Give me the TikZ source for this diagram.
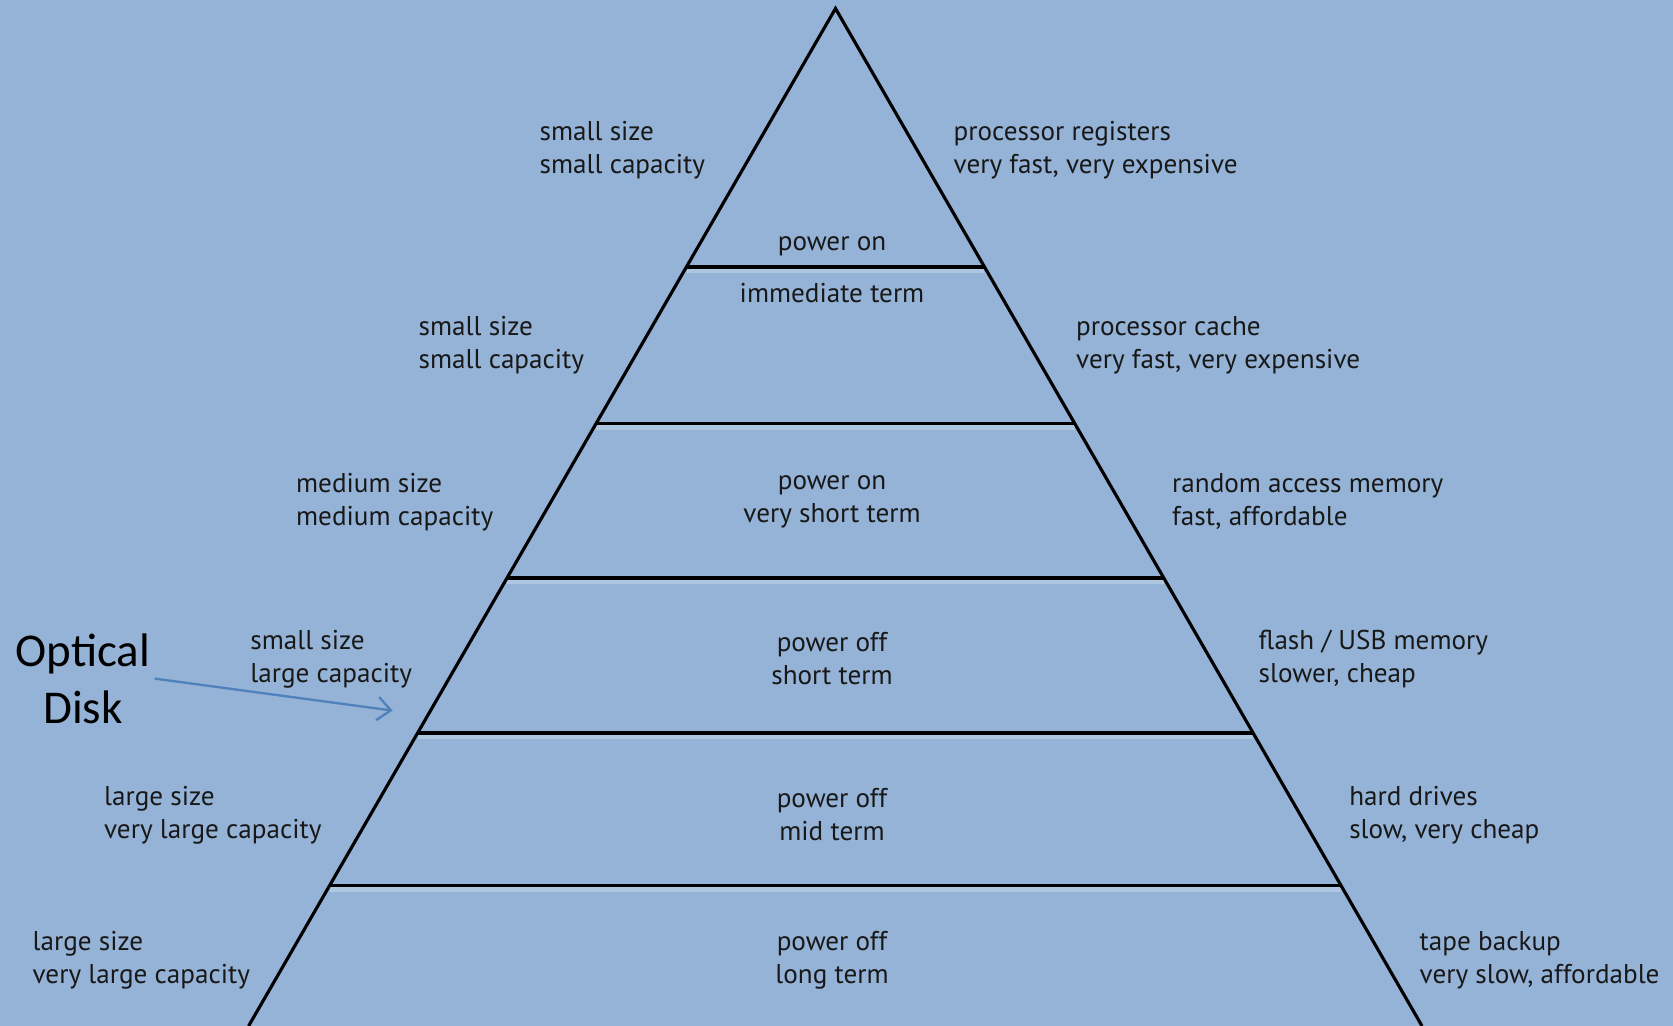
\documentclass[tikz,border=0pt]{standalone}
\usepackage{fontspec}
\setmainfont{PT Sans}
\newfontfamily\calloutfont{Carlito}
\usetikzlibrary{arrows.meta}
\definecolor{bgblue}{RGB}{149,179,215}
\definecolor{arrowblue}{RGB}{79,129,189}
\definecolor{inkgray}{RGB}{24,24,24}
\begin{document}
\begin{tikzpicture}[x=0.3pt,y=-0.3pt,
  lbl/.style={inner sep=0pt, align=left, anchor=west, text=inkgray,
    font=\fontsize{8.15}{9.9}\selectfont},
  mid/.style={inner sep=0pt, align=center, text=inkgray,
    font=\fontsize{8.15}{9.9}\selectfont},
  pyrside/.style={line width=0.95pt, black, line join=miter},
  tierhalo/.style={line width=1.9pt, white, opacity=0.25},
  tierline/.style={line width=1.1pt, black},
  callout/.style={inner sep=0pt, align=center, text=black,
    font=\calloutfont\fontsize{14.1}{17}\selectfont},
  pointer/.style={arrowblue, line width=0.7pt, -{Straight Barb[length=4pt,width=7pt]}}]

% background
\fill[bgblue] (0,0) rectangle (1673,1026);
\useasboundingbox (0,0) rectangle (1673,1026);

% pyramid corners
\coordinate (apex) at (835.5,8.5);
\coordinate (bl) at (248.6,1026);
\coordinate (br) at (1422,1026);

% tier boundaries, left and right ends
\coordinate (t1l) at (686.5,266.8);  \coordinate (t1r) at (984.4,266.8);
\coordinate (t2l) at (596.1,423.6);  \coordinate (t2r) at (1074.8,423.6);
\coordinate (t3l) at (506.8,578.3);  \coordinate (t3r) at (1164.1,578.3);
\coordinate (t4l) at (417.6,733.0);  \coordinate (t4r) at (1253.3,733.0);
\coordinate (t5l) at (329.6,885.6);  \coordinate (t5r) at (1341.2,885.6);

\foreach \t in {1,...,5}{
  \draw[tierhalo] ([yshift=-0.9pt]t\t l) -- ([yshift=-0.9pt]t\t r);
  \draw[tierline] (t\t l) -- (t\t r);
}

% pyramid sides
\draw[pyrside] (bl) -- (apex) -- (br);

% centre labels
\node[mid] (c0a) at (832,246) {power on};
\node[mid] (c0b) at (832,293) {immediate term};
\node[mid] (c2) at (832,502) {power on\\very short term};
\node[mid] (c3) at (832,659) {power off\\short term};
\node[mid] (c4) at (832,815) {power off\\mid term};
\node[mid] (c5) at (832,960) {power off\\long term};

% left labels
\node[lbl] (l0) at (539,150) {small size\\small capacity};
\node[lbl] (l1) at (418,345) {small size\\small capacity};
\node[lbl] (l2) at (295.5,502) {medium size\\medium capacity};
\node[lbl] (l3) at (249.7,659) {small size\\large capacity};
\node[lbl] (l4) at (103.5,815) {large size\\very large capacity};
\node[lbl] (l5) at (32,960) {large size\\very large capacity};

% right labels
\node[lbl] (r0) at (953,150) {processor registers\\very fast, very expensive};
\node[lbl] (r1) at (1075.5,345) {processor cache\\very fast, very expensive};
\node[lbl] (r2) at (1171.5,502) {random access memory\\fast, affordable};
\node[lbl] (r3) at (1258,659) {flash / USB memory\\slower, cheap};
\node[lbl] (r4) at (1348.6,815) {hard drives\\slow, very cheap};
\node[lbl] (r5) at (1419,960) {tape backup\\very slow, affordable};

% optical disk callout
\node[callout] (optical) at (83,679) {Optical\\Disk};
\coordinate (ptrstart) at (154.7,678.6);
\coordinate (ptrend) at (392.6,710.6);
\draw[pointer] (ptrstart) -- (ptrend);

\end{tikzpicture}
\end{document}
